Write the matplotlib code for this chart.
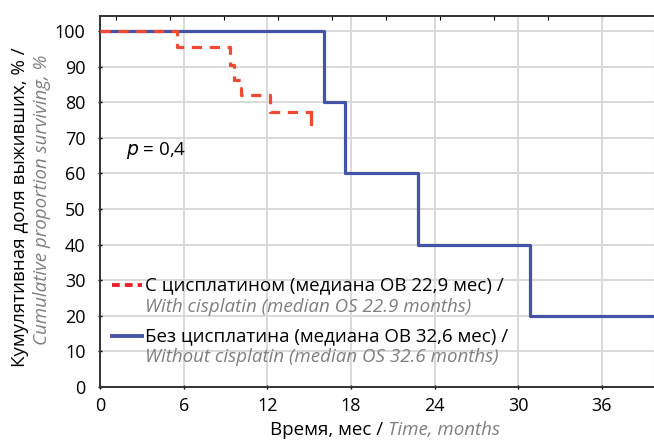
import numpy as np
import matplotlib
matplotlib.use("Agg")
import matplotlib.pyplot as plt

# данные кривых Каплана-Мейера (месяцы, % выживших)
cis_time = [0, 5.5, 9.35, 9.6, 10.1, 12.2, 15.1]
cis_surv = [100, 95.6, 90.5, 86.2, 82.0, 77.3, 74.0]

nocis_time = [0, 16.1, 17.55, 22.8, 30.85, 39.7]
nocis_surv = [100, 80, 60, 40, 20, 20]

x_ticks = [0, 6, 12, 18, 24, 30, 36]
y_ticks = [0, 10, 20, 30, 40, 50, 60, 70, 80, 90, 100]

red = "#f04a33"
blue = "#4453a6"
gray = "#7f7f7f"
fs = 13.5

plt.rcParams["font.family"] = ["Open Sans", "DejaVu Sans"]

fig = plt.figure(figsize=(6.54, 4.41), dpi=100)
ax = fig.add_axes([100 / 654, 1 - 387 / 441, 553.5 / 654, (387 - 16) / 441])

ax.step(nocis_time, nocis_surv, where="post", color=blue, lw=2.3, zorder=3)
ax.step(cis_time, cis_surv, where="post", color=red, lw=2.3,
        linestyle=(0, (3.2, 2.4)), zorder=4)
# хвост красной кривой уходит вниз
ax.plot([cis_time[-1], cis_time[-1]], [cis_surv[-2], cis_surv[-1]],
        color=red, lw=2.3, zorder=4)

ax.set_xlim(0, 39.7)
ax.set_ylim(0, 104.2)
ax.set_xticks(x_ticks)
ax.set_yticks(y_ticks)
ax.grid(True, color="#d9d9d9", lw=1.4)
ax.set_axisbelow(True)
ax.tick_params(labelsize=13, length=3, direction="inout", width=1)
ax.tick_params(axis="y", pad=9)
ax.tick_params(axis="x", pad=6)

for s in ["left", "bottom", "top"]:
    ax.spines[s].set_color("#333333")
    ax.spines[s].set_linewidth(1.4)
ax.spines["right"].set_color("#bbbbbb")

# мелкие засечки сверху как в Statistica
top = ax.secondary_xaxis("top")
top.set_xticks(np.linspace(1.12, 36, 10))
top.tick_params(labeltop=False, length=3, direction="in")
top.spines["top"].set_visible(False)

ax.text(1.85, 66.4, "$p$ = 0,4", fontsize=fs, va="center", ha="left")

# легенда
def leg_row(y1, y2, style, color, t1, t2):
    ax.plot([0.022, 0.075], [y1, y1], transform=ax.transAxes, color=color,
            lw=2.8, linestyle=style, clip_on=False)
    ax.text(0.082, y1, t1, transform=ax.transAxes, fontsize=fs,
            va="center", ha="left")
    ax.text(0.082, y2, t2, transform=ax.transAxes, fontsize=fs,
            va="center", ha="left", color=gray, style="italic")

leg_row((387 - 285) / 371, (387 - 306.5) / 371, (0, (2, 1.3)), "#e8202a",
        "С цисплатином (медиана ОВ 22,9 мес) /",
        "With cisplatin (median OS 22.9 months)")
leg_row((387 - 336) / 371, (387 - 357.5) / 371, "-", blue,
        "Без цисплатина (медиана ОВ 32,6 мес) /",
        "Without cisplatin (median OS 32.6 months)")

# подписи осей
fig.text(388 / 654, 1 - 430 / 441, "Время, мес / ", fontsize=fs,
         ha="right", va="center")
fig.text(388 / 654, 1 - 430 / 441, "Time, months", fontsize=fs,
         ha="left", va="center", color=gray, style="italic")
fig.text(20 / 654, 1 - 47 / 441, "Кумулятивная доля выживших, % /",
         fontsize=fs, rotation=90, rotation_mode="anchor",
         ha="right", va="center")
fig.text(42 / 654, 1 - 55 / 441, "Cumulative proportion surviving, %",
         fontsize=fs, rotation=90, rotation_mode="anchor",
         ha="right", va="center", color=gray, style="italic")

fig.savefig("out.png", dpi=100)
